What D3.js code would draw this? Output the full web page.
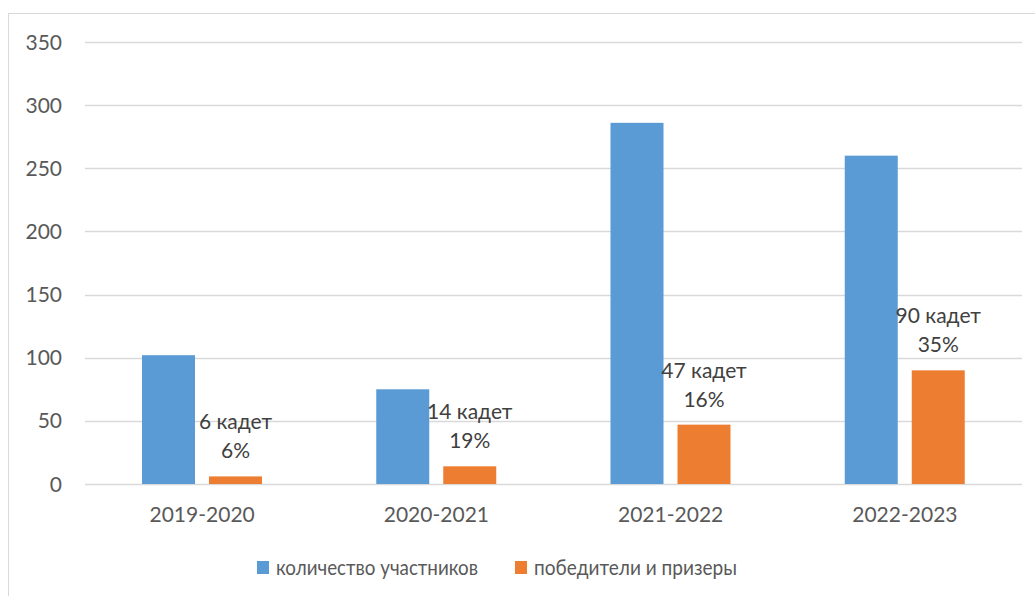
<!DOCTYPE html>
<html>
<head>
<meta charset="utf-8">
<script src="https://cdn.jsdelivr.net/npm/d3@7"></script>
<style>
  body { margin: 0; background: #fff; }
  text { font-family: Lato, "Open Sans", sans-serif; fill: #595959; }
</style>
</head>
<body>
<script>
const years = ["2019-2020", "2020-2021", "2021-2022", "2022-2023"];
const participants = [102, 75, 286, 260];
const winners = [6, 14, 47, 90];
const winnerLabels = [["6 кадет", "6%"], ["14 кадет", "19%"], ["47 кадет", "16%"], ["90 кадет", "35%"]];
const seriesNames = ["количество участников", "победители и призеры"];
const yTicks = [0, 50, 100, 150, 200, 250, 300, 350];
const colors = ["#5B9BD5", "#ED7D31"];

const width = 1035, height = 596;
const plot = {left: 85, right: 1022, top: 42, bottom: 484};

const svg = d3.select("body").append("svg")
  .attr("width", width)
  .attr("height", height);

// chart frame
svg.append("rect")
  .attr("x", 8.5).attr("y", 13.5)
  .attr("width", 1040).attr("height", 600)
  .attr("fill", "none")
  .attr("stroke", "#D9D9D9");

const y = d3.scaleLinear().domain([0, 350]).range([plot.bottom, plot.top]);
const x = d3.scaleBand().domain(years).range([plot.left, plot.right]);
const inner = d3.scaleBand().domain([0, 1]).range([57, 57 + 53 * 2 + 14]).paddingInner(14 / 67);

// gridlines
svg.append("g").selectAll("line")
  .data(yTicks)
  .enter().append("line")
  .attr("x1", plot.left).attr("x2", plot.right)
  .attr("y1", d => Math.round(y(d)) + 0.5)
  .attr("y2", d => Math.round(y(d)) + 0.5)
  .attr("stroke", "#D9D9D9")
  .attr("stroke-width", 1.3);

// y labels
svg.append("g").selectAll("text")
  .data(yTicks)
  .enter().append("text")
  .attr("x", 62)
  .attr("y", d => y(d))
  .attr("dy", "0.36em")
  .attr("text-anchor", "end")
  .style("font-size", "21px")
  .text(d => d);

// bars
const series = [participants, winners];
series.forEach((vals, si) => {
  svg.append("g").selectAll("rect")
    .data(vals)
    .enter().append("rect")
    .attr("x", (d, i) => x(years[i]) + inner(si))
    .attr("y", d => y(d))
    .attr("width", inner.bandwidth())
    .attr("height", d => plot.bottom - y(d))
    .attr("fill", colors[si]);
});

// data labels for winners
const lbl = svg.append("g").selectAll("text")
  .data(winners)
  .enter().append("text")
  .attr("x", (d, i) => x(years[i]) + inner(1) + inner.bandwidth() / 2)
  .attr("y", d => y(d) - 47)
  .attr("text-anchor", "middle")
  .style("font-size", "21px")
  .style("fill", "#404040");
lbl.append("tspan")
  .text((d, i) => winnerLabels[i][0]);
lbl.append("tspan")
  .attr("x", (d, i) => x(years[i]) + inner(1) + inner.bandwidth() / 2)
  .attr("dy", 29)
  .text((d, i) => winnerLabels[i][1]);

// category labels
svg.append("g").selectAll("text")
  .data(years)
  .enter().append("text")
  .attr("x", d => x(d) + x.bandwidth() / 2)
  .attr("y", 522)
  .attr("text-anchor", "middle")
  .style("font-size", "21px")
  .text(d => d);

// legend
const legendX = [257, 515];
const legendW = [202, 203];
const legend = svg.append("g").selectAll("g")
  .data(seriesNames)
  .enter().append("g")
  .attr("transform", (d, i) => "translate(" + legendX[i] + ",561)");
legend.append("rect")
  .attr("width", 12).attr("height", 13)
  .attr("fill", (d, i) => colors[i]);
legend.append("text")
  .attr("x", 19).attr("y", 14)
  .attr("textLength", (d, i) => legendW[i])
  .attr("lengthAdjust", "spacingAndGlyphs")
  .style("font-size", "21px")
  .text(d => d);
</script>
</body>
</html>
